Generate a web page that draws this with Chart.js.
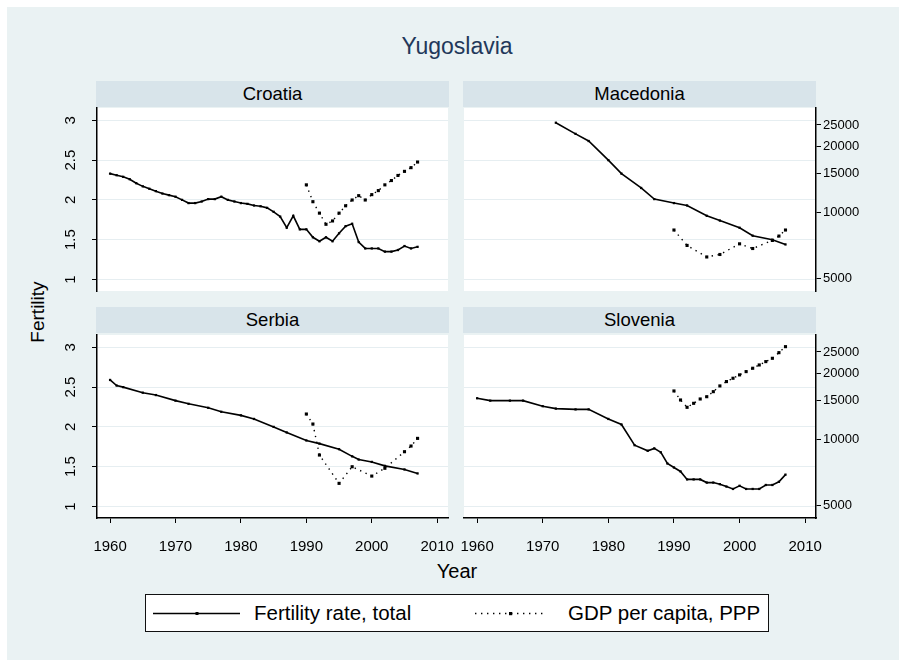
<!DOCTYPE html>
<html>
<head>
<meta charset="utf-8">
<script src="https://cdn.jsdelivr.net/npm/chart.js@4.4.1/dist/chart.umd.min.js"></script>
<style>
  html, body { margin: 0; padding: 0; background: #fff; overflow: hidden; }
  body { width: 899px; height: 660px; position: relative; font-family: "Liberation Sans", Arial, sans-serif; color: #000; }
  #bg { position: absolute; left: 7px; top: 7px; width: 892px; height: 653px; background: #EAF2F3; }
  .abs { position: absolute; white-space: nowrap; }
  .strip { position: absolute; background: #D8E4EA; height: 26px; line-height: 26px; text-align: center; font-size: 18.5px; }
  canvas { position: absolute; }
  #legend { position: absolute; left: 145px; top: 594px; width: 624px; height: 38px; box-sizing: border-box; border: 1px solid #111; background: #fff; }
</style>
</head>
<body>
<div id="bg"></div>
<div class="abs" style="left:0;width:914px;top:33px;text-align:center;font-size:23px;color:#22385a;">Yugoslavia</div>

<div class="strip" style="left:96px;top:81px;width:353px;">Croatia</div>
<div class="strip" style="left:463px;top:81px;width:353px;">Macedonia</div>
<div class="strip" style="left:96px;top:307px;width:353px;">Serbia</div>
<div class="strip" style="left:463px;top:307px;width:353px;">Slovenia</div>

<div class="abs" style="left:-22px;top:301px;width:120px;text-align:center;font-size:19px;transform:rotate(-90deg);">Fertility</div>
<div class="abs" style="left:357px;width:200px;top:560px;text-align:center;font-size:20px;">Year</div>

<div id="legend">
  <svg class="abs" style="left:7px;top:8px;" width="87" height="20">
    <line x1="0" y1="10.5" x2="87" y2="10.5" stroke="#000" stroke-width="1.6"/>
    <rect x="42.5" y="9" width="3" height="3" fill="#000"/>
  </svg>
  <div class="abs" style="left:108px;top:6px;font-size:20.5px;">Fertility rate, total</div>
  <svg class="abs" style="left:321px;top:8px;" width="87" height="20">
    <line x1="8" y1="10.5" x2="80" y2="10.5" stroke="#000" stroke-width="1.4" stroke-dasharray="1.4 4.6"/>
    <rect x="42" y="9" width="3.2" height="3.2" fill="#000"/>
  </svg>
  <div class="abs" style="left:422px;top:6px;font-size:20.5px;">GDP per capita, PPP</div>
</div>

<script>
// axis ticks
const yearTicks = [1960, 1970, 1980, 1990, 2000, 2010];
const fertTicks = [1, 1.5, 2, 2.5, 3];
const gdpTicks = [5000, 10000, 15000, 20000, 25000];

// Croatia
const hrFertYears = [1960, 1961, 1962, 1963, 1964, 1965, 1966, 1967, 1968, 1969,
  1970, 1971, 1972, 1973, 1974, 1975, 1976, 1977, 1978, 1979,
  1980, 1981, 1982, 1983, 1984, 1985, 1986, 1987, 1988, 1989,
  1990, 1991, 1992, 1993, 1994, 1995, 1996, 1997, 1998, 1999,
  2000, 2001, 2002, 2003, 2004, 2005, 2006, 2007];
const hrFert = [2.33, 2.31, 2.29, 2.26, 2.21, 2.17, 2.14, 2.11, 2.08, 2.06,
  2.04, 2.00, 1.96, 1.96, 1.98, 2.01, 2.01, 2.04, 2.00, 1.98,
  1.96, 1.95, 1.93, 1.92, 1.90, 1.85, 1.79, 1.65, 1.80, 1.63,
  1.63, 1.53, 1.48, 1.53, 1.48, 1.58, 1.67, 1.70, 1.47, 1.39,
  1.39, 1.39, 1.35, 1.35, 1.37, 1.42, 1.39, 1.41];
const hrGdpYears = [1990, 1991, 1992, 1993, 1994, 1995, 1996, 1997, 1998, 1999,
  2000, 2001, 2002, 2003, 2004, 2005, 2006, 2007];
const hrGdp = [13340, 11180, 9915, 8820, 9135, 9915, 10710, 11380, 11910, 11380,
  12040, 12560, 13340, 13960, 14720, 15370, 15980, 16950];

// Macedonia
const mkFertYears = [1972, 1975, 1977, 1980, 1982, 1985, 1987, 1990, 1992, 1995, 1997, 2000, 2002, 2005, 2007];
const mkFert = [2.97, 2.83, 2.74, 2.50, 2.33, 2.15, 2.01, 1.96, 1.93, 1.80, 1.74, 1.65, 1.55, 1.50, 1.44];
const mkGdpYears = [1990, 1992, 1995, 1997, 2000, 2002, 2005, 2006, 2007];
const mkGdp = [8305, 7065, 6260, 6425, 7185, 6840, 7445, 7795, 8305];

// Serbia
const rsFertYears = [1960, 1961, 1962, 1965, 1967, 1970, 1972, 1975, 1977, 1980, 1982,
  1985, 1987, 1990, 1992, 1995, 1997, 1998, 2000, 2002, 2005, 2007];
const rsFert = [2.59, 2.52, 2.50, 2.43, 2.40, 2.33, 2.29, 2.24, 2.19, 2.145, 2.10,
  2.00, 1.93, 1.83, 1.79, 1.72, 1.63, 1.59, 1.56, 1.51, 1.465, 1.415];
const rsGdpYears = [1990, 1991, 1992, 1995, 1997, 2000, 2002, 2005, 2006, 2007];
const rsGdp = [13040, 11740, 8480, 6300, 7500, 6800, 7380, 8780, 9320, 10100];

// Slovenia
const siFertYears = [1960, 1962, 1965, 1967, 1970, 1972, 1975, 1977, 1980, 1982,
  1984, 1986, 1987, 1988, 1989, 1990, 1991, 1992, 1993, 1994,
  1995, 1996, 1997, 1998, 1999, 2000, 2001, 2002, 2003, 2004,
  2005, 2006, 2007];
const siFert = [2.36, 2.33, 2.33, 2.33, 2.26, 2.23, 2.22, 2.22, 2.10, 2.03,
  1.77, 1.70, 1.73, 1.68, 1.54, 1.49, 1.44, 1.34, 1.34, 1.34,
  1.30, 1.30, 1.28, 1.25, 1.22, 1.26, 1.22, 1.22, 1.22, 1.27,
  1.27, 1.31, 1.40];
const siGdpYears = [1990, 1991, 1992, 1993, 1994, 1995, 1996, 1997, 1998, 1999,
  2000, 2001, 2002, 2003, 2004, 2005, 2006, 2007];
const siGdp = [16610, 15110, 13990, 14590, 15270, 15640, 16490, 17510, 18330, 18980,
  19660, 20350, 21080, 21820, 22600, 23400, 24830, 26440];

Chart.defaults.font.family = '"Liberation Sans", Arial, sans-serif';
Chart.defaults.color = '#000';

const FONT = '"Liberation Sans", Arial, sans-serif';

// white plot region + rotated y labels (Stata style)
const panelPlugin = {
  id: 'panel',
  beforeDraw(chart) {
    const a = chart.chartArea, ctx = chart.ctx;
    ctx.save();
    ctx.fillStyle = '#fff';
    ctx.fillRect(a.left, a.top, a.right - a.left, a.bottom - a.top);
    ctx.restore();
  },
  afterDraw(chart, args, opts) {
    if (!opts.rotLabels) return;
    const s = chart.scales.y, ctx = chart.ctx;
    ctx.save();
    ctx.font = '15px ' + FONT;
    ctx.fillStyle = '#000';
    ctx.textAlign = 'center';
    ctx.textBaseline = 'middle';
    s.ticks.forEach(t => {
      const py = s.getPixelForValue(t.value);
      ctx.save();
      ctx.translate(chart.chartArea.left - 26, py);
      ctx.rotate(-Math.PI / 2);
      ctx.fillText(String(t.value), 0, 0);
      ctx.restore();
    });
    ctx.restore();
  }
};

const panels = [
  { fy: hrFertYears, f: hrFert, gy: hrGdpYears, g: hrGdp, l: 97, t: 108, r: 448, b: 291, left: true, right: false, bottom: false },
  { fy: mkFertYears, f: mkFert, gy: mkGdpYears, g: mkGdp, l: 464, t: 108, r: 816, b: 291, left: false, right: true, bottom: false },
  { fy: rsFertYears, f: rsFert, gy: rsGdpYears, g: rsGdp, l: 97, t: 335, r: 448, b: 518, left: true, right: false, bottom: true },
  { fy: siFertYears, f: siFert, gy: siGdpYears, g: siGdp, l: 464, t: 335, r: 816, b: 518, left: false, right: true, bottom: true }
];

panels.forEach(p => {
  const cv = document.createElement('canvas');
  const W = (p.r - p.l) + 130, H = (p.b - p.t) + 60;
  cv.width = W; cv.height = H;
  cv.style.left = (p.l - 60) + 'px';
  cv.style.top = (p.t - 10) + 'px';
  cv.style.width = W + 'px'; cv.style.height = H + 'px';
  document.body.appendChild(cv);

  new Chart(cv, {
    type: 'line',
    data: {
      datasets: [{
        label: 'Fertility rate, total',
        data: p.fy.map((yr, i) => ({ x: yr, y: p.f[i] })),
        yAxisID: 'y',
        borderColor: '#000',
        backgroundColor: '#000',
        borderWidth: 1.6,
        pointStyle: 'rect',
        pointRadius: 1.6,
        pointBorderWidth: 0,
        tension: 0
      }, {
        label: 'GDP per capita, PPP',
        data: p.gy.map((yr, i) => ({ x: yr, y: p.g[i] })),
        yAxisID: 'y2',
        borderColor: '#000',
        backgroundColor: '#000',
        borderWidth: 1.4,
        borderDash: [1.4, 4.6],
        pointStyle: 'rect',
        pointRadius: 2.2,
        pointBorderWidth: 0,
        tension: 0
      }]
    },
    options: {
      responsive: false,
      animation: false,
      events: [],
      layout: {
        autoPadding: false,
        padding: { left: p.left ? 0 : 60, right: p.right ? 0 : 70, top: 10, bottom: p.bottom ? 0 : 50 }
      },
      plugins: {
        legend: { display: false },
        tooltip: { enabled: false },
        panel: { rotLabels: p.left }
      },
      scales: {
        x: {
          type: 'linear',
          min: 1958,
          max: 2011.65,
          bounds: 'data',
          display: p.bottom,
          afterBuildTicks: s => { s.ticks = yearTicks.map(v => ({ value: v })); },
          afterFit: s => { if (p.bottom) s.height = 50; },
          grid: { drawOnChartArea: false, tickLength: 5, color: '#000', tickColor: '#000' },
          border: { color: '#000', width: 1.5 },
          ticks: { autoSkip: false, maxRotation: 0, color: '#000', padding: 15, font: { size: 15 }, callback: v => String(v) }
        },
        y: {
          type: 'linear',
          position: 'left',
          min: 0.855,
          max: 3.155,
          bounds: 'data',
          afterBuildTicks: s => { s.ticks = fertTicks.map(v => ({ value: v })); },
          afterFit: s => { s.width = p.left ? 60 : 0; },
          grid: { color: '#E6EEF1', lineWidth: 1, tickColor: '#000', tickLength: 5, drawTicks: p.left },
          border: { display: p.left, color: '#000', width: 1.5 },
          ticks: { display: false }
        },
        y2: {
          type: 'logarithmic',
          position: 'right',
          min: 4380,
          max: 29880,
          bounds: 'data',
          display: p.right,
          afterBuildTicks: s => { s.ticks = gdpTicks.map(v => ({ value: v })); },
          afterFit: s => { if (p.right) s.width = 70; },
          grid: { drawOnChartArea: false, tickLength: 5, color: '#000', tickColor: '#000' },
          border: { color: '#000', width: 1.5 },
          ticks: { color: '#000', padding: 2, font: { size: 13 }, callback: v => String(v) }
        }
      }
    },
    plugins: [panelPlugin]
  });
});
</script>
</body>
</html>
